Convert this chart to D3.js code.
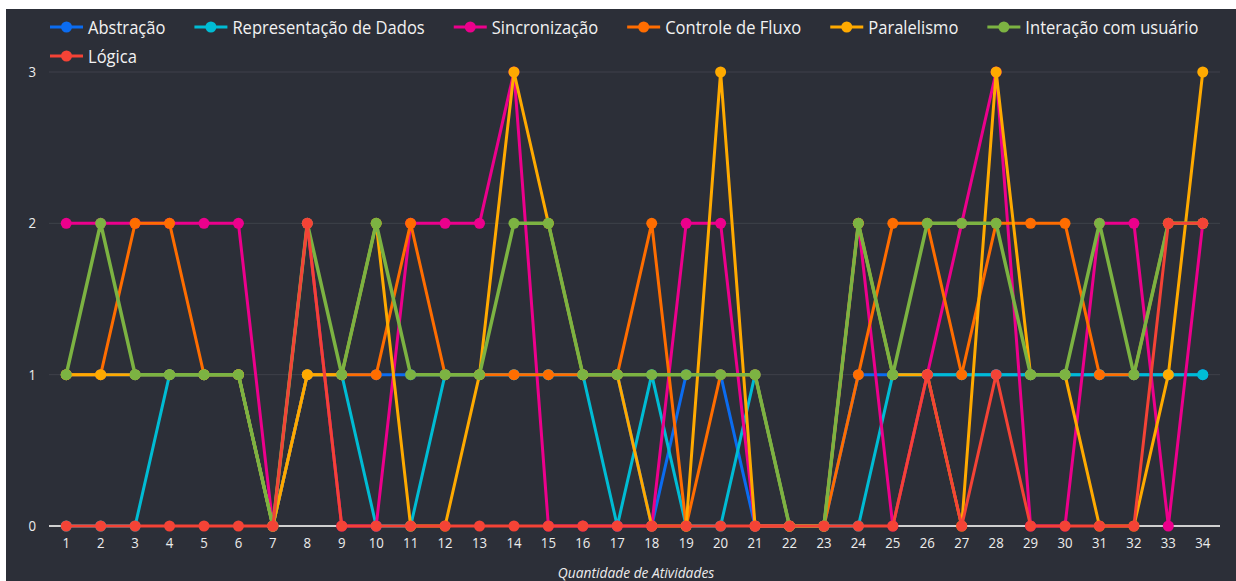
<!DOCTYPE html>
<html>
<head>
<meta charset="utf-8">
<script src="https://cdn.jsdelivr.net/npm/d3@7"></script>
<style>
  html, body { margin: 0; padding: 0; background: #ffffff; }
  svg { display: block; }
</style>
</head>
<body>
<svg id="chart" width="1236" height="581"></svg>
<script>
// categories (x axis)
var atividades = d3.range(1, 35);
var yTicks = [0, 1, 2, 3];

// series values
var abstracao     = [1,1,1,1,1,1,0,1,1,1,1,1,1,1,1,1,1,0,1,1,0,0,0,1,1,1,1,1,1,1,1,1,1,1];
var representacao = [0,0,0,1,1,1,0,1,1,0,0,1,1,1,1,1,0,1,0,0,1,0,0,0,1,1,1,1,1,1,1,1,1,1];
var sincronizacao = [2,2,2,2,2,2,0,2,0,0,2,2,2,3,0,0,0,0,2,2,0,0,0,2,0,1,2,3,0,0,2,2,0,2];
var controle      = [1,1,2,2,1,1,0,1,1,1,2,1,1,1,1,1,1,2,0,1,1,0,0,1,2,2,1,2,2,2,1,1,2,2];
var paralelismo   = [1,1,1,1,1,1,0,1,1,2,0,0,1,3,2,1,1,0,0,3,0,0,0,2,1,1,0,3,1,1,0,0,1,3];
var interacao     = [1,2,1,1,1,1,0,2,1,2,1,1,1,2,2,1,1,1,1,1,1,0,0,2,1,2,2,2,1,1,2,1,2,2];
var logica        = [0,0,0,0,0,0,0,2,0,0,0,0,0,0,0,0,0,0,0,0,0,0,0,0,0,1,0,1,0,0,0,0,2,2];

var names  = ["Abstração", "Representação de Dados", "Sincronização", "Controle de Fluxo",
              "Paralelismo", "Interação com usuário", "Lógica"];
var colors = ["#0b6cf0", "#00bcd4", "#ec008c", "#ff6d00", "#ffaa00", "#7cb342", "#f44336"];
var series = [abstracao, representacao, sincronizacao, controle, paralelismo, interacao, logica];

var svg = d3.select("#chart");
var W = 1236, H = 581;
var font = "'Open Sans', sans-serif";
var squeeze = 0.88; // text looks condensed in the original

// dark panel
svg.append("rect").attr("x", 6).attr("y", 9).attr("width", W - 6).attr("height", H - 9)
  .attr("fill", "#2c2f38");

var x = d3.scalePoint().domain(atividades).range([49, 1220]).padding(0.5);
var y = d3.scaleLinear().domain([0, 3]).range([526, 72]);

// grid lines
svg.append("g").selectAll("line")
  .data(yTicks.filter(function (d) { return d > 0; }))
  .enter().append("line")
  .attr("x1", 49).attr("x2", 1220)
  .attr("y1", function (d) { return y(d); }).attr("y2", function (d) { return y(d); })
  .attr("stroke", "#3e414a").attr("stroke-width", 1);

// base axis line
svg.append("line").attr("x1", 49).attr("x2", 1220).attr("y1", y(0)).attr("y2", y(0))
  .attr("stroke", "#d0d0d0").attr("stroke-width", 2);

// y labels
svg.append("g").selectAll("text").data(yTicks).enter().append("text")
  .attr("transform", function (d) { return "translate(36," + (y(d) + 5) + ") scale(" + squeeze + ",1)"; })
  .attr("text-anchor", "end")
  .attr("font-family", font).attr("font-size", 15).attr("fill", "#ececec")
  .text(function (d) { return d; });

// x labels
svg.append("g").selectAll("text").data(atividades).enter().append("text")
  .attr("transform", function (d) { return "translate(" + x(d) + ",548) scale(" + squeeze + ",1)"; })
  .attr("text-anchor", "middle")
  .attr("font-family", font).attr("font-size", 15).attr("fill", "#ececec")
  .text(function (d) { return d; });

// axis title
svg.append("text")
  .attr("transform", "translate(636,578) scale(0.92,1)")
  .attr("text-anchor", "middle")
  .attr("font-family", font).attr("font-size", 15).attr("font-style", "italic")
  .attr("fill", "#ececec")
  .text("Quantidade de Atividades");

// lines + markers
var line = d3.line()
  .x(function (d, i) { return x(atividades[i]); })
  .y(function (d) { return y(d); });

series.forEach(function (vals, k) {
  var g = svg.append("g");
  g.append("path").datum(vals)
    .attr("d", line)
    .attr("fill", "none")
    .attr("stroke", colors[k])
    .attr("stroke-width", k === 5 ? 3.5 : 3)
    .attr("stroke-linejoin", "round");
  g.selectAll("circle").data(vals).enter().append("circle")
    .attr("cx", function (d, i) { return x(atividades[i]); })
    .attr("cy", function (d) { return y(d); })
    .attr("r", 5.5)
    .attr("fill", colors[k]);
});

// legend
var legend = svg.append("g");
var lx = 50, ly = 27, rowH = 29, maxX = 1225, legSqueeze = 0.92;
names.forEach(function (name, k) {
  var item = legend.append("g");
  item.append("line").attr("x1", 0).attr("x2", 33).attr("y1", 0).attr("y2", 0)
    .attr("stroke", colors[k]).attr("stroke-width", 3);
  item.append("circle").attr("cx", 16.5).attr("cy", 0).attr("r", 5.5).attr("fill", colors[k]);
  var t = item.append("text")
    .attr("transform", "translate(38,6.5) scale(" + legSqueeze + ",1)")
    .attr("font-family", font).attr("font-size", 18).attr("fill", "#f2f2f2")
    .text(name);
  var w = 38 + t.node().getComputedTextLength() * legSqueeze;
  if (lx + w > maxX) { lx = 50; ly += rowH; }
  item.attr("transform", "translate(" + lx + "," + ly + ")");
  lx += w + 29;
});
</script>
</body>
</html>
